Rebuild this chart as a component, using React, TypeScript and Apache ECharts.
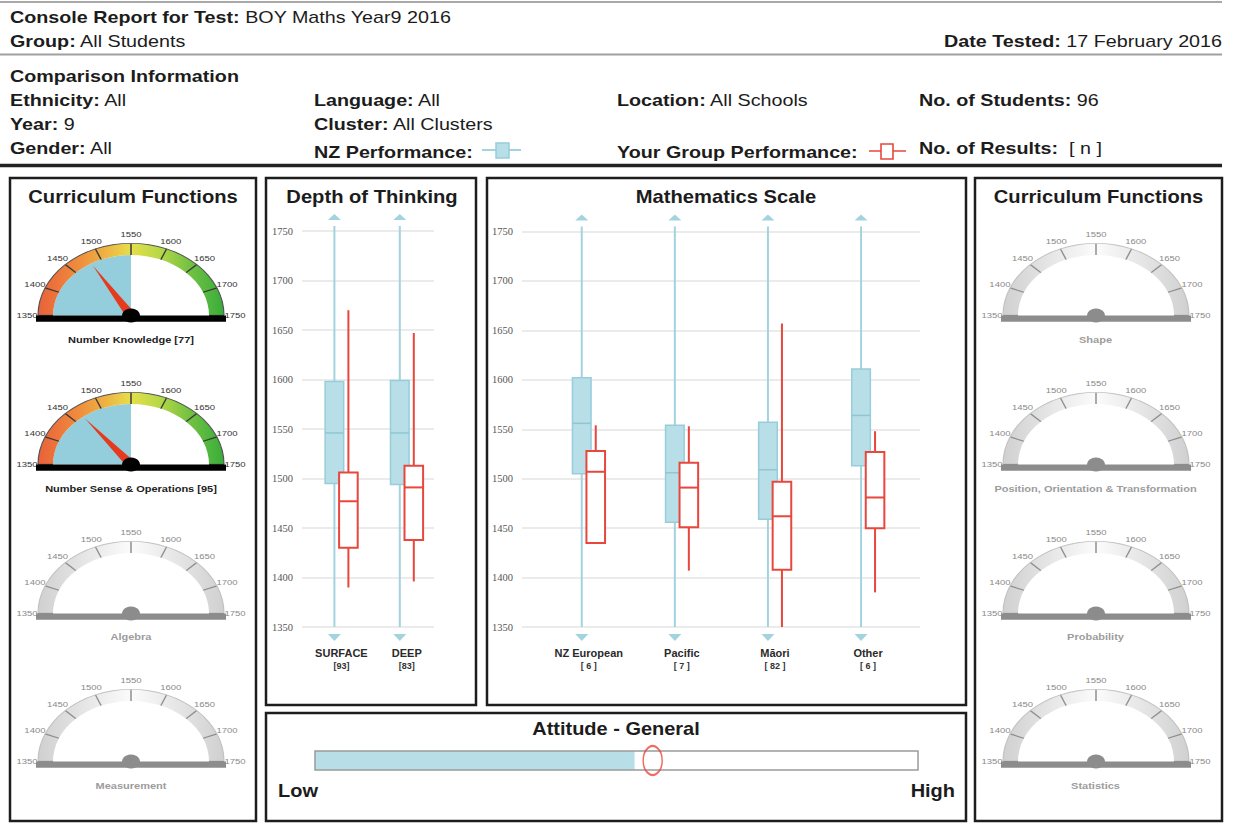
import React, { useEffect, useRef } from 'react';
import * as echarts from 'echarts';

const FONT = '"Liberation Sans", Arial, Helvetica, sans-serif';
const SERIF = '"Liberation Serif", "DejaVu Serif", "Times New Roman", serif';

// ---------- shared scale ----------
const scaleMin = 1350;
const scaleMax = 1750;
const scaleStep = 50;

// ---------- Depth of Thinking ----------
const depthCategories = ['SURFACE', 'DEEP'];
const depthCounts = ['93', '83'];
const depthNzMin = [1250, 1250]; // below the scale (arrow)
const depthNzQ1 = [1495, 1494];
const depthNzMedian = [1546, 1546];
const depthNzQ3 = [1598, 1599];
const depthNzMax = [1850, 1850]; // above the scale (arrow)
const depthGroupMin = [1390, 1396];
const depthGroupQ1 = [1430, 1438];
const depthGroupMedian = [1477, 1491];
const depthGroupQ3 = [1506, 1513];
const depthGroupMax = [1670, 1647];

// ---------- Mathematics Scale ----------
const mathCategories = ['NZ European', 'Pacific', 'Māori', 'Other'];
const mathCounts = ['6', '7', '82', '6'];
const mathNzMin = [1250, 1250, 1250, 1250];
const mathNzQ1 = [1505, 1456, 1459, 1513];
const mathNzMedian = [1556, 1506, 1509, 1564];
const mathNzQ3 = [1602, 1554, 1557, 1611];
const mathNzMax = [1850, 1850, 1850, 1850];
const mathGroupMin = [1435, 1407, 1350, 1385];
const mathGroupQ1 = [1435, 1451, 1408, 1450];
const mathGroupMedian = [1507, 1491, 1462, 1481];
const mathGroupQ3 = [1528, 1516, 1497, 1527];
const mathGroupMax = [1554, 1553, 1657, 1548];

// ---------- Curriculum function gauges ----------
const gaugeNames = [
  'Number Knowledge',
  'Number Sense & Operations',
  'Algebra',
  'Measurement',
  'Shape',
  'Position, Orientation & Transformation',
  'Probability',
  'Statistics',
];
const gaugeCounts = [77, 95, null, null, null, null, null, null];
const gaugeNzValues = [1550, 1550, null, null, null, null, null, null];
const gaugeGroupValues = [1482, 1466, null, null, null, null, null, null];

// ---------- Attitude ----------
const attitudeMin = 0;
const attitudeMax = 100;
const attitudeNz = 53;
const attitudeGroup = 56;

// ---------- colours ----------
const NZ_FILL = '#b8dee7';
const NZ_BOX = '#97cddb';
const NZ_LINE = '#a3d3df';
const RED = '#e8473d';
const INK = '#1c1c1c';

// ---------- layout (positions only) ----------
const G_SCALE = 0.775;
const G_W = 262;
const G_H = 132;
const G_CX = 131;
const G_CY = 118;
const G_R = 93;
const gaugeCenterX = [131, 131, 131, 131, 1095.5, 1095.5, 1095.5, 1095.5];
const gaugeCenterY = [315.5, 464, 613, 761.5, 315.5, 464, 613, 761.5];
const gaugeLabelY = [340, 488.5, 637, 785.5, 340, 488.5, 637, 785.5];

function txt(x: number, y: number, text: string, o: any = {}) {
  const size = o.size ?? 17;
  const color = o.color ?? INK;
  return {
    type: 'text',
    x,
    y,
    scaleX: o.sx ?? 1.16,
    z: 20,
    style: {
      text,
      fill: color,
      fontSize: size,
      fontFamily: FONT,
      fontWeight: o.weight ?? 'normal',
      textAlign: o.align ?? 'left',
      textVerticalAlign: 'middle',
      rich: {
        b: { fontWeight: 'bold', fontSize: size, fontFamily: FONT, fill: color },
      },
    },
  };
}

function boxRenderer(kind: 'nz' | 'group') {
  return function (params: any, api: any) {
    const idx = api.value(0);
    const lo = api.value(1);
    const q1 = api.value(2);
    const med = api.value(3);
    const q3 = api.value(4);
    const hi = api.value(5);
    const isNz = kind === 'nz';
    const cx = api.coord([idx, med])[0] + (isNz ? -7 : 7);
    const Y = (v: number) => api.coord([idx, v])[1];
    const yTop = Y(scaleMax);
    const yBot = Y(scaleMin);
    const half = 9.3;
    const children: any[] = [];
    let wTop = Y(Math.min(hi, scaleMax));
    const wBot = Y(Math.max(lo, scaleMin));
    if (hi > scaleMax) wTop = yTop - 5;
    children.push({
      type: 'line',
      shape: { x1: cx, y1: wTop, x2: cx, y2: wBot },
      style: { stroke: isNz ? NZ_LINE : RED, lineWidth: 2 },
    });
    if (hi > scaleMax) {
      children.push({
        type: 'polygon',
        shape: { points: [[cx, yTop - 17], [cx - 6.5, yTop - 11], [cx + 6.5, yTop - 11]] },
        style: { fill: NZ_LINE },
      });
    }
    if (lo < scaleMin) {
      children.push({
        type: 'polygon',
        shape: { points: [[cx, yBot + 14], [cx - 6.5, yBot + 7], [cx + 6.5, yBot + 7]] },
        style: { fill: NZ_LINE },
      });
    }
    children.push({
      type: 'rect',
      shape: { x: cx - half, y: Y(q3), width: half * 2, height: Y(q1) - Y(q3) },
      style: { fill: isNz ? NZ_FILL : '#ffffff', stroke: isNz ? NZ_BOX : RED, lineWidth: isNz ? 1.5 : 2 },
    });
    children.push({
      type: 'line',
      shape: { x1: cx - half, y1: Y(med), x2: cx + half, y2: Y(med) },
      style: { stroke: isNz ? '#8fc6d4' : RED, lineWidth: isNz ? 1.5 : 2 },
    });
    return { type: 'group', children };
  };
}

function rows(cats: string[], a: number[], b: number[], c: number[], d: number[], e: number[]) {
  return cats.map((_, i) => [i, a[i], b[i], c[i], d[i], e[i]]);
}

function scaleYAxis(gridIndex: number, visible: boolean) {
  if (!visible) {
    return { type: 'value', gridIndex, min: scaleMin, max: scaleMax, interval: scaleStep, show: false };
  }
  return {
    type: 'value',
    gridIndex,
    min: scaleMin,
    max: scaleMax,
    interval: scaleStep,
    axisLine: { show: false },
    axisTick: { show: false },
    axisLabel: {
      fontFamily: SERIF,
      fontSize: 10.5,
      color: '#555',
      margin: 9,
      showMinLabel: true,
      showMaxLabel: true,
      formatter: (v: number) => String(v),
    },
    splitLine: { show: true, lineStyle: { color: '#e4e4e4', width: 1.5 } },
  };
}

function catAxis(gridIndex: number, data: string[], counts: string[], pad: string) {
  return {
    type: 'category',
    gridIndex,
    data,
    boundaryGap: true,
    axisLine: { show: false },
    axisTick: { show: false },
    splitLine: { show: false },
    axisLabel: {
      interval: 0,
      margin: 19,
      formatter: (v: string, i: number) => `{a|${v}}\n{b|[${pad}${counts[i]}${pad}]}`,
      rich: {
        a: { fontSize: 11, fontWeight: 'bold', color: '#2a2a2a', fontFamily: FONT, lineHeight: 13 },
        b: { fontSize: 9, fontWeight: 'bold', color: '#333', fontFamily: FONT, lineHeight: 13 },
      },
    },
  };
}

function buildMainOption() {
  const panelStroke = { fill: 'none', stroke: '#1d1d1d', lineWidth: 2.5 };
  const elements: any[] = [
    // header rules
    { type: 'line', shape: { x1: 0, y1: 2, x2: 1222, y2: 2 }, style: { stroke: '#8c8c8c', lineWidth: 1.5 } },
    { type: 'line', shape: { x1: 0, y1: 54.5, x2: 1222, y2: 54.5 }, style: { stroke: '#a0a0a0', lineWidth: 2 } },
    { type: 'line', shape: { x1: 0, y1: 165.5, x2: 1222, y2: 165.5 }, style: { stroke: '#222', lineWidth: 3.5 } },
    // header texts
    txt(10, 17, '{b|Console Report for Test:} BOY Maths Year9 2016'),
    txt(10, 41, '{b|Group:} All Students'),
    txt(1222, 41, '{b|Date Tested:} 17 February 2016', { align: 'right' }),
    txt(10, 76, '{b|Comparison Information}'),
    txt(10, 100, '{b|Ethnicity:} All'),
    txt(10, 124, '{b|Year:} 9'),
    txt(10, 147.5, '{b|Gender:} All'),
    txt(314, 100, '{b|Language:} All'),
    txt(314, 124, '{b|Cluster:} All Clusters'),
    txt(314, 152, '{b|NZ Performance:}'),
    txt(617, 100, '{b|Location:} All Schools'),
    txt(617, 152, '{b|Your Group Performance:}'),
    txt(919, 100, '{b|No. of Students:} 96'),
    txt(919, 148, '{b|No. of Results:}  [ n ]'),
    // legend marks
    { type: 'line', shape: { x1: 482, y1: 150, x2: 521, y2: 150 }, style: { stroke: NZ_LINE, lineWidth: 2 } },
    { type: 'rect', shape: { x: 496, y: 143, width: 13, height: 15 }, style: { fill: NZ_FILL, stroke: NZ_BOX, lineWidth: 1.5 } },
    { type: 'line', shape: { x1: 869, y1: 151, x2: 906, y2: 151 }, style: { stroke: RED, lineWidth: 1.6 } },
    { type: 'rect', shape: { x: 881, y: 144, width: 12, height: 15 }, style: { fill: '#fff', stroke: RED, lineWidth: 1.6 } },
    // panels
    { type: 'rect', shape: { x: 10, y: 178, width: 246, height: 643 }, style: panelStroke },
    { type: 'rect', shape: { x: 266, y: 178, width: 210, height: 527 }, style: panelStroke },
    { type: 'rect', shape: { x: 487, y: 178, width: 479, height: 527 }, style: panelStroke },
    { type: 'rect', shape: { x: 266, y: 713, width: 700, height: 108 }, style: panelStroke },
    { type: 'rect', shape: { x: 975, y: 178, width: 247, height: 643 }, style: panelStroke },
    // panel titles
    txt(133, 197, '{b|Curriculum Functions}', { size: 18, sx: 1.12, align: 'center' }),
    txt(372, 197, '{b|Depth of Thinking}', { size: 18, sx: 1.12, align: 'center' }),
    txt(726, 197, '{b|Mathematics Scale}', { size: 18, sx: 1.12, align: 'center' }),
    txt(1098.5, 197, '{b|Curriculum Functions}', { size: 18, sx: 1.12, align: 'center' }),
    txt(616, 729, '{b|Attitude - General}', { size: 18, sx: 1.11, align: 'center' }),
    txt(278, 791, '{b|Low}', { size: 18, sx: 1.11 }),
    txt(955, 791, '{b|High}', { size: 18, sx: 1.11, align: 'right' }),
    // attitude bar outline
    {
      type: 'rect',
      z: 3,
      shape: { x: 315, y: 751, width: 603, height: 19 },
      style: { fill: 'none', stroke: '#9a9a9a', lineWidth: 1.5 },
    },
  ];
  gaugeNames.forEach((name, i) => {
    const active = gaugeCounts[i] != null;
    const label = active ? `${name} [${gaugeCounts[i]}]` : name;
    elements.push(
      txt(gaugeCenterX[i], gaugeLabelY[i], `{b|${label}}`, {
        size: 9.5,
        sx: 1.16,
        align: 'center',
        color: active ? '#222' : '#9c9c9c',
      })
    );
  });

  const gridBase = { containLabel: false, outerBoundsMode: 'none' };
  return {
    animation: false,
    backgroundColor: '#ffffff',
    textStyle: { fontFamily: FONT },
    grid: [
      { ...gridBase, left: 302, top: 231, width: 132, height: 396 },
      { ...gridBase, left: 308.7, top: 231, width: 130.8, height: 396 },
      { ...gridBase, left: 522, top: 231.5, width: 398, height: 395.5 },
      { ...gridBase, left: 542.2, top: 231.5, width: 372.4, height: 395.5 },
      { ...gridBase, left: 315, top: 751, width: 603, height: 19 },
    ],
    xAxis: [
      { type: 'value', gridIndex: 0, show: false, min: 0, max: 1 },
      catAxis(1, depthCategories, depthCounts, ''),
      { type: 'value', gridIndex: 2, show: false, min: 0, max: 1 },
      catAxis(3, mathCategories, mathCounts, ' '),
      { type: 'value', gridIndex: 4, show: false, min: attitudeMin, max: attitudeMax },
    ],
    yAxis: [
      scaleYAxis(0, true),
      scaleYAxis(1, false),
      scaleYAxis(2, true),
      scaleYAxis(3, false),
      { type: 'category', gridIndex: 4, show: false, data: ['General'] },
    ],
    series: [
      {
        type: 'custom',
        name: 'NZ Performance',
        xAxisIndex: 1,
        yAxisIndex: 1,
        renderItem: boxRenderer('nz'),
        encode: { x: 0, y: [1, 2, 3, 4, 5] },
        data: rows(depthCategories, depthNzMin, depthNzQ1, depthNzMedian, depthNzQ3, depthNzMax),
        z: 3,
      },
      {
        type: 'custom',
        name: 'Your Group Performance',
        xAxisIndex: 1,
        yAxisIndex: 1,
        renderItem: boxRenderer('group'),
        encode: { x: 0, y: [1, 2, 3, 4, 5] },
        data: rows(depthCategories, depthGroupMin, depthGroupQ1, depthGroupMedian, depthGroupQ3, depthGroupMax),
        z: 4,
      },
      {
        type: 'custom',
        name: 'NZ Performance',
        xAxisIndex: 3,
        yAxisIndex: 3,
        renderItem: boxRenderer('nz'),
        encode: { x: 0, y: [1, 2, 3, 4, 5] },
        data: rows(mathCategories, mathNzMin, mathNzQ1, mathNzMedian, mathNzQ3, mathNzMax),
        z: 3,
      },
      {
        type: 'custom',
        name: 'Your Group Performance',
        xAxisIndex: 3,
        yAxisIndex: 3,
        renderItem: boxRenderer('group'),
        encode: { x: 0, y: [1, 2, 3, 4, 5] },
        data: rows(mathCategories, mathGroupMin, mathGroupQ1, mathGroupMedian, mathGroupQ3, mathGroupMax),
        z: 4,
      },
      {
        type: 'bar',
        xAxisIndex: 4,
        yAxisIndex: 4,
        data: [attitudeNz],
        barWidth: 19,
        itemStyle: { color: NZ_FILL },
        silent: true,
        z: 2,
      },
      {
        type: 'scatter',
        xAxisIndex: 4,
        yAxisIndex: 4,
        data: [[attitudeGroup, 0]],
        symbol: 'circle',
        symbolSize: [19, 29],
        itemStyle: { color: 'rgba(255,255,255,0)', borderColor: RED, borderWidth: 1.8 },
        silent: true,
        z: 5,
      },
    ],
    graphic: { elements },
  };
}

function buildGaugeOption(i: number) {
  const active = gaugeGroupValues[i] != null;
  const band = active
    ? new echarts.graphic.LinearGradient(0, 0, 1, 0, [
        { offset: 0, color: '#e9613a' },
        { offset: 0.22, color: '#ef8d3d' },
        { offset: 0.38, color: '#eeb744' },
        { offset: 0.5, color: '#e6df4a' },
        { offset: 0.65, color: '#b8d847' },
        { offset: 0.82, color: '#71c142' },
        { offset: 1, color: '#37ad3a' },
      ])
    : new echarts.graphic.LinearGradient(0, 0, 1, 0, [
        { offset: 0, color: '#d0d0d0' },
        { offset: 0.5, color: '#fbfbfb' },
        { offset: 1, color: '#d0d0d0' },
      ]);
  const base: any = {
    type: 'gauge',
    center: [G_CX, G_CY],
    startAngle: 180,
    endAngle: 0,
    min: scaleMin,
    max: scaleMax,
    splitNumber: (scaleMax - scaleMin) / scaleStep,
    silent: true,
    axisLine: { show: false },
    axisTick: { show: false },
    splitLine: { show: false },
    axisLabel: { show: false },
    pointer: { show: false },
    anchor: { show: false },
    progress: { show: false },
    title: { show: false },
    detail: { show: false },
  };
  const series: any[] = [];
  if (active) {
    series.push({
      ...base,
      z: 1,
      radius: 78,
      progress: { show: true, width: 78, roundCap: false, itemStyle: { color: '#94cedd' } },
      data: [{ value: gaugeNzValues[i] }],
    });
  }
  series.push({
    ...base,
    z: 2,
    radius: G_R,
    axisLine: { show: true, lineStyle: { width: 15, color: [[1, band]] } },
    splitLine: {
      show: true,
      distance: -15,
      length: 15,
      lineStyle: { color: active ? '#3a3a3a' : '#8f8f8f', width: 1.5 },
    },
    axisLabel: {
      show: true,
      distance: -11,
      rotate: 0.01,
      fontSize: 9.5,
      fontFamily: FONT,
      color: active ? '#333' : '#8a8a8a',
    },
    data: [],
  });
  series.push({
    ...base,
    z: 3,
    radius: G_R + 0.6,
    axisLine: { show: true, lineStyle: { width: 1.2, color: [[1, active ? '#555' : '#c2c2c2']] } },
    data: [],
  });
  if (active) {
    series.push({
      ...base,
      z: 8,
      radius: G_R,
      pointer: {
        show: true,
        icon: 'triangle',
        length: 75,
        width: 10,
        offsetCenter: [0, 0],
        itemStyle: { color: '#e63a1f' },
      },
      data: [{ value: gaugeGroupValues[i] }],
    });
  }
  const dark = active ? '#000000' : '#8c8c8c';
  return {
    animation: false,
    series,
    graphic: {
      elements: [
        { type: 'circle', z: 100, shape: { cx: G_CX, cy: G_CY, r: 9 }, style: { fill: dark } },
        { type: 'rect', z: 101, shape: { x: G_CX - 95, y: G_CY, width: 190, height: 8 }, style: { fill: dark } },
      ],
    },
  };
}

export default function App() {
  const mainRef = useRef<HTMLDivElement>(null);
  const gaugeRefs = useRef<(HTMLDivElement | null)[]>([]);

  useEffect(() => {
    const charts: any[] = [];
    if (mainRef.current) {
      const main = echarts.init(mainRef.current, null, { renderer: 'svg' });
      main.setOption(buildMainOption() as any);
      charts.push(main);
    }
    gaugeRefs.current.forEach((el, i) => {
      if (!el) return;
      const c = echarts.init(el, null, { renderer: 'svg' });
      c.setOption(buildGaugeOption(i) as any);
      charts.push(c);
    });
    return () => charts.forEach((c) => c.dispose());
  }, []);

  return (
    <div
      style={{
        position: 'fixed',
        left: 0,
        top: 0,
        width: 1238,
        height: 823,
        background: '#fff',
        overflow: 'hidden',
      }}
    >
      <div ref={mainRef} style={{ position: 'absolute', left: 0, top: 0, width: 1238, height: 823 }} />
      {gaugeNames.map((n, i) => (
        <div
          key={n}
          ref={(el) => {
            gaugeRefs.current[i] = el;
          }}
          style={{
            position: 'absolute',
            left: gaugeCenterX[i] - G_CX,
            top: gaugeCenterY[i] - G_CY * G_SCALE,
            width: G_W,
            height: G_H,
            transform: `scaleY(${G_SCALE})`,
            transformOrigin: '0 0',
          }}
        />
      ))}
    </div>
  );
}
